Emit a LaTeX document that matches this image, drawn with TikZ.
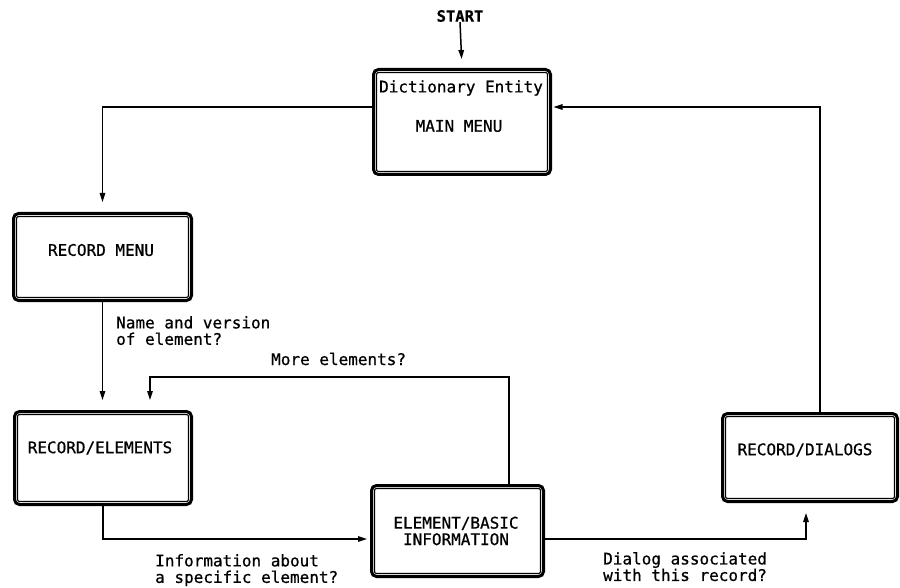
\documentclass[tikz,border=0pt]{standalone}
\usepackage{fontspec}
\newfontfamily\dmono[FakeBold=0.7]{DejaVu Sans Mono}
\usetikzlibrary{arrows.meta}
\begin{document}
\begin{tikzpicture}[x=1pt,y=-1pt,
  flowbox/.style={draw, line width=3pt, rounded corners=5pt, inner sep=0pt},
  innerline/.style={line width=1.2pt, rounded corners=2pt},
  lbl/.style={font=\dmono\fontsize{16}{16.5}\selectfont, inner sep=0pt, align=left},
  startlbl/.style={font=\dmono\bfseries\fontsize{15.5}{16}\selectfont, inner sep=0pt},
  conn/.style={line width=1.5pt, -{Triangle[length=9pt,width=5.5pt]}}]
\useasboundingbox (0,0) rectangle (900,588);
% boxes
\node[flowbox, minimum width=177pt, minimum height=105pt] (main) at (462,122) {};
\node[flowbox, minimum width=178pt, minimum height=87pt] (recmenu) at (102.5,257) {};
\node[flowbox, minimum width=177pt, minimum height=93pt] (recel) at (103,458) {};
\node[flowbox, minimum width=172pt, minimum height=91pt] (elbasic) at (457.5,531) {};
\node[flowbox, minimum width=175pt, minimum height=88pt] (dialogs) at (810,457.5) {};
\foreach \n in {main,recmenu,recel,elbasic,dialogs}
  \draw[innerline] ([shift={(4.5,4.5)}]\n.north west) rectangle ([shift={(-4.5,-4.5)}]\n.south east);
% box texts
\node[lbl] (tdict) at (461,88) {Dictionary Entity};
\node[lbl] (tmain) at (459,126) {MAIN MENU};
\node[lbl] (trm) at (101,250) {RECORD MENU};
\node[lbl] (tre) at (100,448) {RECORD/ELEMENTS};
\node[lbl] (trd) at (805,450) {RECORD/DIALOGS};
\node[lbl, align=center] (teb) at (456,531) {ELEMENT/BASIC\\INFORMATION};
% start
\node[startlbl] (start) at (460,16) {START};
% helper coordinates
\coordinate (yA) at (0,107);
\coordinate (yB) at (0,539);
\coordinate (xR) at (820,0);
\coordinate (xD) at (806,0);
\coordinate (loopR) at (509,377);
\coordinate (loopL) at (150,377);
% connectors
\draw[conn, shorten >=9pt] (start.south) -- (main.north);
\draw[conn, shorten >=10pt] (main.west |- yA) -| (recmenu.north);
\draw[conn, shorten >=10pt] (recmenu.south) -- (recmenu.south |- recel.north);
\draw[conn, shorten >=10pt] (loopR |- elbasic.north) -- (loopR) -- (loopL) -- (loopL |- recel.north);
\draw[conn, shorten >=3pt] (recel.south) |- (elbasic.west |- yB);
\draw[conn, shorten >=10pt] (elbasic.east |- yB) -| (dialogs.south -| xD);
\draw[conn, shorten >=1.5pt] (dialogs.north -| xR) |- (main.east |- yA);
% labels
\node[lbl, anchor=north west] (lname) at (116,316) {Name and version\\of element?};
\node[lbl, anchor=base west] (lmore) at (271,365) {More elements?};
\node[lbl, anchor=north west] (linfo) at (155,554) {Information about\\a specific element?};
\node[lbl, anchor=north west] (ldial) at (603,552) {Dialog associated\\with this record?};
\end{tikzpicture}
\end{document}
